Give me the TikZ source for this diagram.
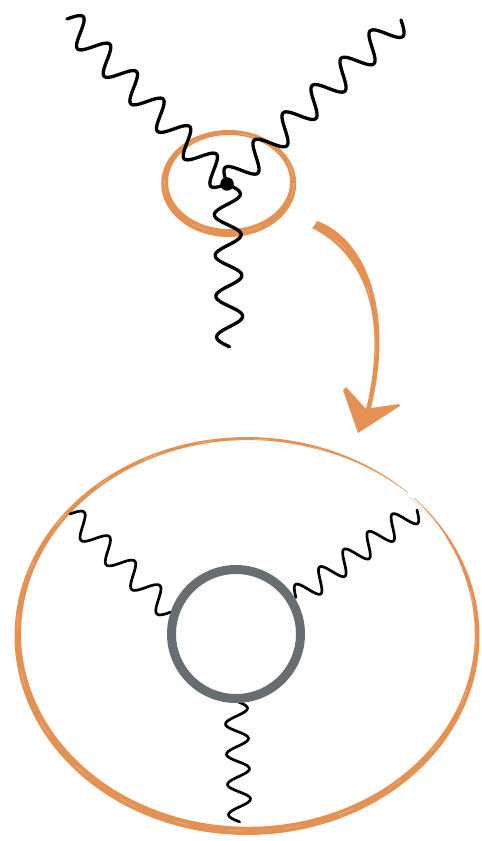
\documentclass[tikz,border=0pt]{standalone}
\usepackage{tikz}
\usetikzlibrary{arrows.meta, positioning, calc}
\definecolor{brushcol}{RGB}{228,146,84}
\definecolor{loopcol}{RGB}{102,110,113}
% sine line from #2 to #3, #4 periods, #5 cm high
\newcommand{\wavyline}[5][bigwave]{%
  \draw[#1] let \p1=(#2), \p2=(#3), \n1={veclen(\x2-\x1,\y2-\y1)} in
    plot[variable=\t, domain=0:1, samples=24*#4]
    ({\x1+(\x2-\x1)*\t-(\y2-\y1)/\n1*#5*sin(360*#4*\t)*1cm},
     {\y1+(\y2-\y1)*\t+(\x2-\x1)/\n1*#5*sin(360*#4*\t)*1cm});}

\begin{document}
\begin{tikzpicture}[
  x=0.02cm, y=-0.02cm,
  declare function={ringw(\t)=(3+2.6*(1-sin(\t))-0.9*cos(\t))*min(1,0.12+min(\t-45,405-\t)/32);},
  brush/.style={fill=brushcol, draw=none},
  streak/.style={draw=white!45!brushcol, line width=0.2pt, dash pattern=on 9pt off 23pt},
  bigwave/.style={draw=black, line width=0.066cm, line cap=round, line join=round},
  smallwave/.style={draw=black, line width=0.054cm, line cap=round, line join=round},
  vertexdot/.style={circle, fill=black, inner sep=0pt, minimum size=0.27cm},
  looprng/.style={circle, draw=loopcol, line width=0.18cm, inner sep=0pt, minimum size=2.58cm}
]
\useasboundingbox (0,0) rectangle (482,841);

% upper ring
\fill[brush, even odd rule] (228.7,183.5) ellipse [x radius=67.5, y radius=53.5]
                            (229,182) ellipse [x radius=61, y radius=47];
\draw[streak] (229,183) ellipse [x radius=64.5, y radius=50];

% lower ring
\fill[brush] plot[domain=46:404, samples=140] ({247+232.5*cos(\x)},{636-199*sin(\x)})
  -- plot[domain=404:46, samples=140] ({247+(232.5-ringw(\x))*cos(\x)},{636-(199-ringw(\x))*sin(\x)}) -- cycle;
\draw[streak] (246.5,635) ellipse [x radius=229.5, y radius=196];

% curved arrow
\coordinate (arrstart) at (314,226);
\coordinate (arrtip) at (358,433);
\fill[brush] (arrstart) -- (317,221) .. controls (365,238) and (395,310) .. (371,408)
  -- (399,404) -- (400,406) -- (arrtip) -- (343,390) -- (346,387) -- (366,409)
  .. controls (390,310) and (360,252) .. (312,228) -- cycle;
\draw[streak] (335,240) .. controls (365,262) and (388,320) .. (369,400);

% upper vertex
\coordinate (tl) at (67,19);
\coordinate (tr) at (401,20);
\coordinate (tb) at (230,347);
\node[vertexdot] (vert) at (227,184) {};
\wavyline{tl}{vert.center}{6}{0.265}
\wavyline{tr}{vert.center}{6}{0.265}
\wavyline{vert.center}{tb}{4}{0.265}

% lower loop
\coordinate (bl) at (70,514);
\coordinate (br) at (417,510);
\coordinate (bb) at (240,822);
\coordinate (jl) at (171,612);
\coordinate (jr) at (296,598);
\coordinate (jb) at (236,701);
\wavyline[smallwave]{bl}{jl}{4}{0.225}
\wavyline[smallwave]{br}{jr}{5}{0.225}
\wavyline[smallwave]{jb}{bb}{4}{0.225}
\node[looprng] (loop) at (236,634) {};

\end{tikzpicture}
\end{document}
